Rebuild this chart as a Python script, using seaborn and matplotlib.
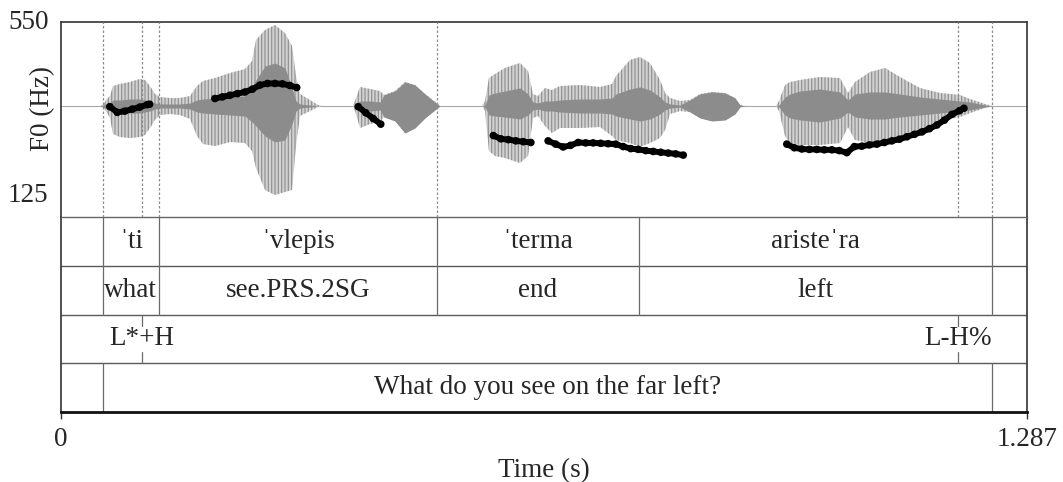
import numpy as np
import pandas as pd
import matplotlib
matplotlib.use("Agg")
import matplotlib.pyplot as plt
import seaborn as sns

# ---------------- data ----------------
T_END = 1.287

# F0 contour (s, Hz), one list per voiced stretch
seg1_t = [0.065, 0.075, 0.085, 0.095, 0.105, 0.115, 0.118]
seg1_f = [342, 328, 331, 336, 341, 347, 348]
seg2_t = [0.205, 0.215, 0.225, 0.235, 0.245, 0.255, 0.265, 0.275, 0.285, 0.295, 0.305, 0.314]
seg2_f = [362, 366, 370, 374, 378, 385, 395, 399, 399, 398, 394, 389]
seg3_t = [0.396, 0.406, 0.416, 0.426]
seg3_f = [342, 327, 313, 299]
seg4_t = [0.576, 0.586, 0.596, 0.606, 0.616, 0.626]
seg4_f = [271, 263, 261, 258, 256, 254]
seg5_t = [0.649, 0.659, 0.669, 0.679, 0.689, 0.699, 0.709, 0.719, 0.729, 0.739,
          0.749, 0.759, 0.769, 0.779, 0.789, 0.799, 0.809, 0.819, 0.829]
seg5_f = [258, 250, 243, 247, 254, 253, 253, 252, 251, 250,
          244, 239, 237, 234, 232, 230, 228, 226, 223]
seg6_t = [0.967, 0.977, 0.987, 0.997, 1.007, 1.017, 1.027, 1.037, 1.047, 1.057,
          1.067, 1.077, 1.087, 1.097, 1.107, 1.117, 1.127, 1.137, 1.147, 1.157,
          1.167, 1.177, 1.187, 1.197, 1.203]
seg6_f = [250, 241, 238, 237, 237, 236, 236, 234, 229, 244,
          245, 248, 250, 254, 258, 262, 268, 274, 280, 288,
          297, 309, 323, 332, 338]

# waveform amplitude envelope (time s, upper, lower; arbitrary amplitude units)
wave_t = [0.0, 0.0520, 0.0560, 0.0600, 0.0653, 0.0693, 0.0786, 0.0919, 0.1053, 0.1119,
          0.1186, 0.1252, 0.1319, 0.1452, 0.1585, 0.1719, 0.1812, 0.1892, 0.2052, 0.2252,
          0.2451, 0.2545, 0.2598, 0.2718, 0.2851, 0.2984, 0.3078, 0.3131, 0.3184, 0.3317,
          0.3424, 0.3477, 0.3890, 0.3930, 0.3984, 0.4117, 0.4250, 0.4303, 0.4450, 0.4583,
          0.4716, 0.4850, 0.4983, 0.5049, 0.5609, 0.5649, 0.5702, 0.5782, 0.5915, 0.6115,
          0.6222, 0.6288, 0.6355, 0.6448, 0.6542, 0.6648, 0.6915, 0.7181, 0.7341, 0.7394,
          0.7581, 0.7714, 0.7847, 0.7981, 0.8048, 0.8114, 0.8248, 0.8381, 0.8514, 0.8673,
          0.8847, 0.8980, 0.9046, 0.9113, 0.9526, 0.9566, 0.9646, 0.9712, 0.9846, 1.0112,
          1.0379, 1.0485, 1.0578, 1.0778, 1.0978, 1.1178, 1.1444, 1.1711, 1.1977, 1.2110,
          1.2310, 1.2404, 1.287]
wave_up = [0, 0, 1, 6, 10, 20, 22, 24, 27, 26,
           20, 12, 9, 8, 8, 10, 20, 25, 28, 33,
           37, 45, 66, 76, 81, 73, 60, 30, 12, 6,
           1, 0, 0, 8, 19, 17, 15, 11, 15, 24,
           21, 12, 4, 0, 0, 5, 28, 32, 38, 43,
           35, 12, 10, 18, 16, 20, 21, 19, 22, 30,
           46, 49, 43, 26, 13, 8, 5, 6, 12, 14,
           13, 8, 1, 0, 0, 5, 21, 24, 26, 29,
           28, 13, 24, 34, 38, 29, 18, 13, 11, 7,
           2, 0, 0]
wave_dn = [0, 0, 1, 5, 12, 28, 31, 32, 31, 29,
           22, 14, 9, 8, 9, 13, 30, 38, 40, 36,
           37, 45, 62, 84, 89, 86, 84, 40, 10, 5,
           1, 0, 0, 8, 22, 18, 16, 11, 15, 27,
           22, 12, 4, 0, 0, 5, 45, 50, 52, 57,
           50, 12, 10, 20, 27, 22, 22, 21, 30, 34,
           37, 41, 37, 32, 24, 8, 5, 6, 12, 15,
           14, 8, 1, 0, 0, 5, 30, 37, 39, 39,
           37, 21, 34, 37, 36, 32, 24, 14, 11, 7,
           2, 0, 0]
# dense (darker) core of the waveform
core_up = [0, 0, 1, 2, 3, 6, 6, 7, 7, 6,
           5, 3, 2, 2, 2, 3, 6, 7, 8, 9,
           10, 20, 26, 40, 43, 38, 18, 5, 2, 1,
           0, 0, 0, 2, 5, 5, 4, 11, 15, 24,
           21, 12, 4, 0, 0, 1, 11, 13, 15, 18,
           12, 4, 3, 5, 5, 6, 7, 7, 8, 12,
           17, 19, 16, 9, 4, 2, 1, 6, 12, 14,
           13, 8, 1, 0, 0, 1, 9, 12, 15, 17,
           14, 6, 12, 14, 14, 12, 9, 7, 5, 4,
           1, 0, 0]
core_dn = [0, 0, 1, 2, 3, 6, 7, 7, 7, 6,
           5, 3, 2, 2, 2, 3, 6, 7, 8, 9,
           10, 16, 20, 30, 36, 34, 18, 5, 2, 1,
           0, 0, 0, 2, 5, 5, 4, 11, 15, 27,
           22, 12, 4, 0, 0, 1, 9, 10, 11, 13,
           9, 4, 3, 5, 5, 6, 7, 7, 8, 10,
           13, 15, 13, 8, 4, 2, 1, 6, 12, 15,
           14, 8, 1, 0, 0, 1, 9, 12, 14, 16,
           12, 6, 11, 13, 13, 11, 9, 7, 5, 4,
           1, 0, 0]

# annotation tiers
word_bounds = [0.056, 0.130, 0.501, 0.770, 1.240]
words = ["\u02c8ti", "\u02c8vlepis", "\u02c8terma", "ariste\u02c8ra"]
glosses = ["what", "see.PRS.2SG", "end", "left"]
tone_times = [0.1075, 1.195]
tones = ["L*+H", "L-H%"]
utt_bounds = [0.056, 1.240]
utterance = ["What do you see on the far left?"]
guide_times = [0.056, 0.1075, 0.130, 0.501, 1.195, 1.240]

f0_ticks = [125, 550]
time_ticks = [0, T_END]
time_ticklabels = ["0", "1.287"]

# ---------------- style ----------------
sns.set_theme(style="white")
SERIF = ["Liberation Serif", "DejaVu Serif"]
plt.rcParams["font.family"] = SERIF
plt.rcParams["hatch.linewidth"] = 0.9
FS = 19.5

W, H = 1063, 482
fig = plt.figure(figsize=(W / 100, H / 100), dpi=100)
fig.patch.set_facecolor("white")

def box(x0, y0, x1, y1):
    return [x0 / W, 1 - y1 / H, (x1 - x0) / W, (y1 - y0) / H]

ax_tier = fig.add_axes(box(61, 217, 1027, 412))
ax_wave = fig.add_axes(box(61, 22, 1027, 217))
ax_f0 = fig.add_axes(box(61, 22, 1027, 195))
for a, z in ((ax_tier, 0), (ax_wave, 1), (ax_f0, 2)):
    a.set_zorder(z)
    a.patch.set_visible(False)
ax_tier.patch.set_visible(True)
ax_tier.patch.set_facecolor("white")

# ---- waveform ----
ax_wave.set_xlim(0, T_END)
ax_wave.set_ylim(-111, 84)
ax_wave.axhline(0, color="#a8a8a8", lw=0.8, zorder=1)
wt = np.array(wave_t)
ax_wave.fill_between(wt, wave_up, -np.array(wave_dn), facecolor="#d2d2d2",
                     edgecolor="#939393", hatch="|||||", lw=0, zorder=2)
ax_wave.fill_between(wt, core_up, -np.array(core_dn), facecolor="#8c8c8c",
                     lw=0, zorder=3)
for t in guide_times:
    ax_wave.axvline(t, color="#8c8c8c", lw=0.9, ls=(0, (2.0, 1.6)), zorder=4)
ax_wave.set_xticks([])
ax_wave.set_yticks([])
for s in ("top", "left", "right"):
    ax_wave.spines[s].set_color("#333333")
    ax_wave.spines[s].set_linewidth(1.2)
ax_wave.spines["bottom"].set_color("#666666")
ax_wave.spines["bottom"].set_linewidth(1.0)

# ---- F0 ----
f0_df = pd.concat([
    pd.DataFrame({"time": t, "f0": f, "seg": i})
    for i, (t, f) in enumerate([(seg1_t, seg1_f), (seg2_t, seg2_f), (seg3_t, seg3_f),
                                (seg4_t, seg4_f), (seg5_t, seg5_f), (seg6_t, seg6_f)])
])
sns.lineplot(data=f0_df, x="time", y="f0", units="seg", estimator=None,
             color="black", lw=4.3, ax=ax_f0, legend=False, zorder=5)
sns.scatterplot(data=f0_df, x="time", y="f0", color="black", s=30,
                edgecolor="none", ax=ax_f0, legend=False, zorder=6)
ax_f0.set_xlim(0, T_END)
ax_f0.set_ylim(f0_ticks[0], f0_ticks[1])
ax_f0.set_yticks(f0_ticks)
ax_f0.set_yticklabels([str(v) for v in f0_ticks], fontsize=FS)
ax_f0.tick_params(axis="y", length=0, pad=9)
ax_f0.set_xticks([])
ax_f0.set_xlabel("")
ax_f0.set_ylabel("F0 (Hz)", fontsize=FS)
ax_f0.yaxis.label.set_verticalalignment("center")
ax_f0.yaxis.set_label_coords(-0.0186, 0.5)
for s in ax_f0.spines.values():
    s.set_visible(False)
for lab in ax_f0.get_yticklabels():
    lab.set_verticalalignment("center")

# ---- tiers ----
ax_tier.set_xlim(0, T_END)
ax_tier.set_ylim(4, 0)
for y in (1, 2, 3):
    ax_tier.axhline(y, color="#5a5a5a", lw=1.0)
for b in word_bounds:
    ax_tier.plot([b, b], [0, 2], color="#6a6a6a", lw=0.9)
for b in utt_bounds:
    ax_tier.plot([b, b], [3, 4], color="#6a6a6a", lw=0.9)
for t in tone_times:
    ax_tier.plot([t, t], [2, 2.24], color="#6a6a6a", lw=0.9)
    ax_tier.plot([t, t], [2.76, 3], color="#6a6a6a", lw=0.9)

for i, (w, g) in enumerate(zip(words, glosses)):
    xc = (word_bounds[i] + word_bounds[i + 1]) / 2
    ax_tier.text(xc, 0.5, w, ha="center", va="center", fontsize=FS, family=SERIF)
    ax_tier.text(xc, 1.5, g, ha="center", va="center", fontsize=FS, family=SERIF)
for t, lab in zip(tone_times, tones):
    ax_tier.text(t, 2.5, lab, ha="center", va="center", fontsize=FS, family=SERIF)
ax_tier.text((utt_bounds[0] + utt_bounds[1]) / 2, 3.5, utterance[0],
             ha="center", va="center", fontsize=FS, family=SERIF)

ax_tier.set_yticks([])
ax_tier.set_xticks(time_ticks)
ax_tier.set_xticklabels(time_ticklabels, fontsize=FS)
ax_tier.tick_params(axis="x", direction="out", length=5, width=1.0,
                    color="#333333", pad=6, bottom=True)
ax_tier.set_xlabel("Time (s)", fontsize=FS, labelpad=4)
ax_tier.spines["top"].set_visible(False)
for s in ("left", "right"):
    ax_tier.spines[s].set_color("#333333")
    ax_tier.spines[s].set_linewidth(1.2)
ax_tier.spines["bottom"].set_color("#111111")
ax_tier.spines["bottom"].set_linewidth(2.0)

fig.savefig("out.png", dpi=100, facecolor="white")
